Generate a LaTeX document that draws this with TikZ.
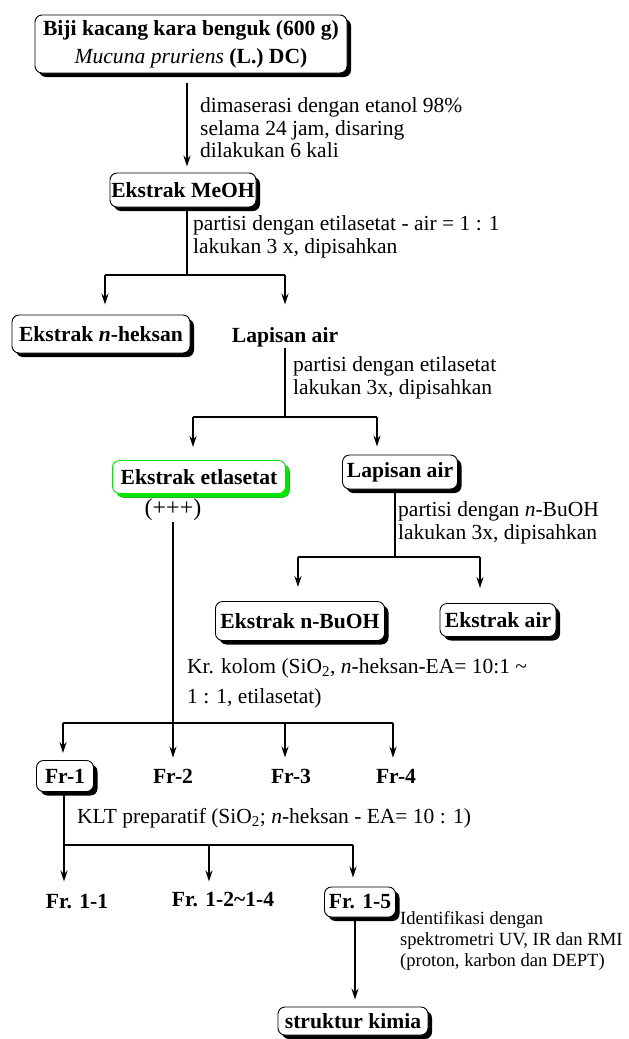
\documentclass[tikz,border=0pt]{standalone}
\usepackage{fontspec}
\setmainfont{Liberation Serif}
\usetikzlibrary{arrows.meta,shadows}
\definecolor{boxgreen}{RGB}{0,230,0}
\begin{document}
\begin{tikzpicture}[x=1pt,y=-1pt,
  box/.style={draw, line width=0.9pt, rounded corners=7pt, fill=white, inner sep=0pt,
    font=\fontsize{21.6}{24}\selectfont\bfseries,
    drop shadow={shadow xshift=4pt, shadow yshift=-4pt, fill=black, opacity=1}},
  gbox/.style={box, draw=boxgreen,
    drop shadow={shadow xshift=4pt, shadow yshift=-4pt, fill=boxgreen, opacity=1}},
  lbl/.style={font=\fontsize{21.6}{24}\selectfont\bfseries, inner sep=1pt},
  note/.style={anchor=west, align=left, font=\fontsize{21.5}{22.5}\selectfont, inner sep=0pt},
  trunk/.style={line width=1.1pt},
  arr/.style={line width=2pt, -{Stealth[length=11pt,width=7pt]}}
]
\useasboundingbox (0,0) rectangle (629,1039);
\fill[white] (0,0) rectangle (629,1039);

% nodes
\node[box, minimum width=312pt, minimum height=58pt, align=center,
  font=\fontsize{21.6}{28}\selectfont\bfseries] (top) at (191,44)
  {Biji kacang kara benguk (600 g)\\{\mdseries\itshape Mucuna pruriens} (L.) DC)};
\node[box, minimum width=146pt, minimum height=34pt] (meoh) at (183,190) {Ekstrak MeOH};
\node[box, minimum width=178pt, minimum height=38pt] (hek) at (101,334) {Ekstrak \textit{n}-heksan};
\node[lbl] (la1) at (285,337) {Lapisan air};
\node[gbox, minimum width=173pt, minimum height=33pt] (etl) at (199,477) {Ekstrak etlasetat};
\node[font=\fontsize{24}{26}\selectfont, inner sep=1pt] (plus) at (173,510) {(+++)};
\node[box, minimum width=115pt, minimum height=34pt] (la2) at (400,472) {Lapisan air};
\node[box, minimum width=169pt, minimum height=39pt] (bu) at (300,621) {Ekstrak n-BuOH};
\node[box, minimum width=116pt, minimum height=33pt] (air) at (498,620) {Ekstrak air};
\node[box, minimum width=57pt, minimum height=31pt] (fr1) at (65,776) {Fr-1};
\node[lbl] (fr2) at (173,776) {Fr-2};
\node[lbl] (fr3) at (291,776) {Fr-3};
\node[lbl] (fr4) at (396,776) {Fr-4};
\node[lbl] (fr11) at (77,902) {Fr. 1-1};
\node[lbl] (fr12) at (223,899) {Fr. 1-2\char`\~1-4};
\node[box, minimum width=71pt, minimum height=30pt] (fr15) at (360,902) {Fr. 1-5};
\node[box, minimum width=150pt, minimum height=28pt] (struk) at (353,1021) {struktur kimia};

% notes
\node[note] (n1) at (200,128) {dimaserasi dengan etanol 98\%\\selama 24 jam, disaring\\dilakukan 6 kali};
\node[note] (n2) at (193,237) {partisi dengan etilasetat - air = 1 : 1\\lakukan 3 x, dipisahkan};
\node[note] (n3) at (293,378) {partisi dengan etilasetat\\lakukan 3x, dipisahkan};
\node[note] (n4) at (398,523) {partisi dengan \textit{n}-BuOH\\lakukan 3x, dipisahkan};
\node[note, font=\fontsize{21.5}{30}\selectfont] (n5) at (187,683) {Kr. kolom (SiO\textsubscript{2}, \textit{n}-heksan-EA= 10:1 \char`\~\\1 : 1, etilasetat)};
\node[note] (n6) at (77,818) {KLT preparatif (SiO\textsubscript{2}; \textit{n}-heksan - EA= 10 : 1)};
\node[note, font=\fontsize{18.6}{21}\selectfont] (n7) at (400,941) {Identifikasi dengan\\spektrometri UV, IR dan RMI\\(proton, karbon dan DEPT)};

% junction coordinates
\coordinate (a0) at (187,0);
\coordinate (j1) at (187,275);
\coordinate (j1l) at (105,275);
\coordinate (j1r) at (285,275);
\coordinate (j2) at (285,417);
\coordinate (j2l) at (193,417);
\coordinate (j2r) at (377,417);
\coordinate (j3) at (395,557);
\coordinate (j3l) at (298,557);
\coordinate (j3r) at (480,557);
\coordinate (j4) at (173,723);
\coordinate (j4l) at (63,723);
\coordinate (j4c) at (285,723);
\coordinate (j4r) at (393,723);
\coordinate (j5) at (64,845);
\coordinate (j5m) at (209,845);
\coordinate (j5r) at (353,845);
\coordinate (a5) at (355,0);

% connectors
\draw[arr, shorten <=10pt, shorten >=6pt] (top.south -| a0) -- (meoh.north -| a0);

\draw[trunk] (meoh.south -| j1) -- (j1);
\draw[trunk] (j1l) -- (j1r);
\draw[arr, shorten >=10pt] (j1l) -- (hek.north -| j1l);
\draw[arr, shorten >=10pt] (j1r) -- (hek.north -| j1r);

\draw[trunk] (la1.south) -- (j2);
\draw[trunk] (j2l) -- (j2r);
\draw[arr, shorten >=13pt] (j2l) -- (etl.north -| j2l);
\draw[arr, shorten >=8pt] (j2r) -- (la2.north -| j2r);

\draw[trunk] (la2.south -| j3) -- (j3);
\draw[trunk] (j3l) -- (j3r);
\draw[arr, shorten >=14pt] (j3l) -- (bu.north -| j3l);
\draw[arr, shorten >=15pt] (j3r) -- (air.north -| j3r);

\draw[trunk] (plus.south) -- (j4);
\draw[trunk] (j4l) -- (j4r);
\draw[arr, shorten >=10pt] (j4) -- (fr2.north);
\draw[arr, shorten >=7pt] (j4l) -- (fr1.north -| j4l);
\draw[arr, shorten >=10pt] (j4c) -- (fr3.north -| j4c);
\draw[arr, shorten >=10pt] (j4r) -- (fr4.north -| j4r);

\draw[trunk] (fr1.south -| j5) -- (j5);
\draw[trunk] (j5) -- (j5r);
\draw[arr, shorten >=12pt] (j5) -- (fr11.north -| j5);
\draw[arr, shorten >=9pt] (j5m) -- (fr12.north -| j5m);
\draw[arr, shorten >=9pt] (j5r) -- (fr15.north -| j5r);

\draw[arr, shorten >=7pt] (fr15.south -| a5) -- (struk.north -| a5);
\end{tikzpicture}
\end{document}
